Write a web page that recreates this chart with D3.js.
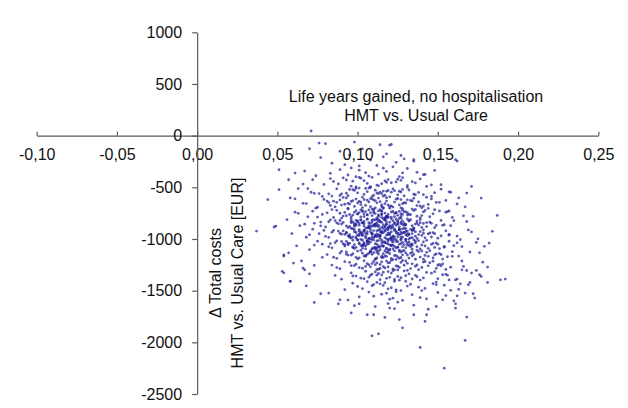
<!DOCTYPE html>
<html>
<head>
<meta charset="utf-8">
<script src="https://cdn.jsdelivr.net/npm/d3@7"></script>
<style>
  body { margin: 0; background: #fff; }
  text { font-family: "Liberation Sans", Arial, Helvetica, sans-serif; }
</style>
</head>
<body>
<div id="container"></div>
<script>
// axis ticks and texts
let xTicks = [-0.10, -0.05, 0, 0.05, 0.10, 0.15, 0.20, 0.25];
let yTicks = [1000, 500, 0, -500, -1000, -1500, -2000, -2500];
let titleLines = ["Life years gained, no hospitalisation", "HMT vs. Usual Care"];
let yLabelLines = ["\u0394 Total costs", "HMT vs. Usual Care [EUR]"];

// bootstrap replicates [delta life years, delta costs EUR]
let topTail = [
  [.071,45],[.098,-62],[.121,-85],[.114,-88],[.120,-92],[.076,-72],[.080,-78],[.070,-127],
  [.103,-128],[.118,-176],[.089,-151],[.127,-192],[.095,-187],
  [.077,-212],[.108,-236],[.124,-258],[.092,-281],[.116,-205],[.135,-247],[.101,-293],[.084,-266],[.129,-224],[.112,-289],[.135,-233],
  [.096,-312],[.118,-347],[.083,-365],[.107,-391],[.131,-318],[.142,-376],[.101,-334],[.074,-388],[.122,-302],[.113,-372],
  [.089,-329],[.137,-355],[.105,-359],[.126,-396],[.094,-381],[.148,-337],[.116,-315],[.067,-343],[.099,-398],[.128,-361],[.141,-378]
];

let upperCloud = [
  [.102,-412],[.117,-438],[.088,-467],[.125,-421],[.096,-489],[.134,-445],[.109,-403],[.079,-472],[.121,-456],[.143,-491],
  [.093,-429],[.112,-478],[.128,-407],[.085,-443],[.106,-462],[.139,-418],[.099,-496],[.118,-451],[.072,-427],[.131,-483],
  [.104,-436],[.115,-465],[.091,-409],[.152,-474],[.124,-448],[.108,-493],[.083,-415],[.119,-425],[.136,-458],[.097,-441],
  [.113,-486],[.127,-432],[.066,-469],[.101,-404],[.146,-477],
  [.108,-503],[.121,-547],[.094,-581],[.132,-526],[.115,-562],[.087,-515],[.103,-594],[.126,-538],[.141,-571],[.099,-509],
  [.112,-555],[.078,-588],[.119,-531],[.135,-566],[.106,-542],[.091,-598],[.128,-519],[.117,-576],[.148,-552],[.101,-507],
  [.084,-585],[.123,-534],[.113,-561],[.097,-523],[.138,-549],[.109,-590],[.069,-512],[.125,-573],[.116,-536],[.093,-557],
  [.131,-501],[.104,-568],[.157,-544],[.111,-528],[.089,-579],[.122,-516],[.100,-553],[.143,-596],[.118,-539],[.082,-564],
  [.107,-506],[.129,-583],[.095,-521],[.114,-548],[.136,-572],[.105,-511],[.073,-559],[.120,-592],[.098,-530],[.127,-545],
  [.110,-577],[.152,-518],[.090,-563],[.116,-586],
  [.113,-604],[.096,-637],[.128,-659],[.104,-618],[.141,-682],[.087,-645],[.119,-671],[.108,-609],[.133,-627],[.075,-693],
  [.100,-652],[.124,-615],[.115,-688],[.092,-664],[.138,-641],[.110,-623],[.083,-676],[.127,-698],[.118,-633],[.102,-667],
  [.146,-612],[.094,-655],[.121,-679],[.107,-641],[.135,-606],[.089,-622],[.116,-694],[.129,-648],[.098,-685],[.111,-628],
  [.162,-661],[.079,-617],[.123,-643],[.105,-674],[.140,-697],[.093,-603],[.117,-658],[.131,-621],[.101,-636],[.086,-689],
  [.126,-670],[.109,-611],[.149,-646],[.097,-629],[.120,-684],[.112,-650],[.068,-657],[.134,-632],[.103,-696],[.125,-608],
  [.090,-672],[.114,-639],[.144,-666],[.106,-624],[.082,-648],[.122,-691],[.099,-614],[.137,-677],[.118,-601],[.095,-662],
  [.130,-652],[.108,-687],[.155,-627],[.085,-634],[.115,-669],[.127,-619],[.102,-643],[.061,-611],[.139,-681],[.111,-699]
];

let coreCloud = [
  [.116,-706],[.098,-742],[.131,-768],[.107,-719],[.145,-785],[.089,-751],[.122,-733],[.112,-797],[.136,-714],[.078,-762],
  [.103,-727],[.127,-756],[.118,-781],[.094,-709],[.141,-738],[.109,-773],[.085,-792],[.124,-745],[.114,-716],[.100,-759],
  [.151,-729],[.096,-787],[.120,-702],[.133,-764],[.105,-735],[.091,-778],[.128,-721],[.117,-749],[.072,-731],[.139,-795],
  [.110,-712],[.125,-771],[.101,-744],[.147,-757],[.087,-723],[.119,-790],[.130,-737],[.106,-766],[.094,-704],[.123,-753],
  [.166,-776],[.113,-728],[.081,-747],[.134,-711],[.104,-783],[.121,-739],[.097,-769],[.142,-724],[.115,-758],[.090,-798],
  [.128,-707],[.108,-746],[.137,-779],[.102,-718],[.119,-761],[.075,-788],[.126,-732],[.111,-754],[.155,-741],[.093,-775],
  [.132,-762],[.099,-726],[.117,-794],[.144,-703],[.106,-767],[.124,-748],[.084,-715],[.113,-782],[.129,-736],[.100,-757],
  [.140,-773],[.109,-710],[.121,-789],[.092,-743],[.135,-725],[.115,-765],[.063,-752],[.127,-799],[.103,-734],[.148,-717],
  [.118,-780],[.095,-763],[.131,-744],[.110,-729],[.159,-791],
  [.117,-803],[.101,-846],[.134,-872],[.109,-818],[.148,-891],[.090,-855],[.125,-833],[.113,-867],[.139,-812],[.080,-884],
  [.104,-829],[.128,-860],[.119,-896],[.096,-808],[.143,-841],[.111,-877],[.086,-822],[.123,-851],[.115,-886],[.102,-815],
  [.154,-862],[.097,-836],[.130,-899],[.107,-843],[.121,-805],[.093,-874],[.137,-827],[.118,-857],[.073,-848],[.126,-882],
  [.112,-811],[.099,-866],[.145,-838],[.106,-893],[.132,-819],[.088,-853],[.120,-870],[.114,-826],[.140,-888],[.103,-845],
  [.168,-831],[.124,-809],[.095,-879],[.129,-847],[.110,-864],[.083,-816],[.136,-856],[.116,-898],[.100,-834],[.149,-869],
  [.122,-823],[.108,-881],[.091,-840],[.133,-814],[.118,-858],[.077,-873],[.127,-837],[.105,-895],[.141,-850],[.113,-828],
  [.098,-862],[.131,-806],[.120,-884],[.087,-844],[.152,-820],[.109,-876],[.125,-852],[.102,-817],[.138,-865],[.115,-839],
  [.094,-890],[.128,-825],[.111,-860],[.146,-848],[.106,-807],[.121,-877],[.082,-833],[.135,-894],[.117,-813],[.099,-854],
  [.158,-871],[.123,-842],[.107,-884],[.089,-821],[.130,-859],[.114,-835],[.143,-880],[.101,-866],[.126,-802],[.067,-857],
  [.119,-889],[.096,-829],[.139,-843],[.112,-871],[.104,-850],
  [.118,-904],[.103,-947],[.136,-973],[.110,-919],[.150,-992],[.092,-956],[.127,-934],[.114,-968],[.141,-913],[.082,-985],
  [.106,-930],[.130,-961],[.121,-997],[.098,-909],[.145,-942],[.112,-978],[.088,-923],[.125,-952],[.117,-987],[.104,-916],
  [.157,-963],[.099,-937],[.132,-999],[.109,-944],[.123,-906],[.095,-975],[.139,-928],[.119,-958],[.076,-949],[.128,-983],
  [.113,-912],[.101,-967],[.147,-939],[.107,-994],[.134,-920],[.090,-954],[.122,-971],[.115,-927],[.142,-989],[.105,-946],
  [.171,-932],[.126,-910],[.097,-980],[.131,-948],[.111,-965],[.085,-917],[.138,-957],[.118,-998],[.102,-935],[.152,-970],
  [.124,-924],[.109,-982],[.093,-941],[.135,-915],[.120,-959],[.080,-974],[.129,-938],[.107,-996],[.144,-951],[.114,-929],
  [.100,-963],[.133,-907],[.122,-985],[.089,-945],[.155,-921],[.111,-977],[.127,-953],[.104,-918],[.140,-966],[.116,-940],
  [.096,-991],[.130,-926],[.113,-961],[.148,-949],[.108,-908],[.123,-978],[.084,-934],[.137,-995],[.119,-914],[.101,-955],
  [.162,-972],[.125,-943],[.110,-986],[.091,-922],[.132,-960],[.115,-936],[.146,-981],[.103,-967],[.128,-903],[.070,-958],
  [.121,-990],[.098,-930],[.141,-944],[.114,-972],[.106,-951],[.134,-987],[.117,-925],[.094,-969],[.126,-911],[.112,-950],
  [.119,-1005],[.104,-1048],[.137,-1074],[.112,-1019],[.151,-1093],[.094,-1056],[.128,-1034],[.116,-1068],[.143,-1013],[.084,-1086],
  [.108,-1030],[.132,-1062],[.122,-1097],[.100,-1009],[.147,-1043],[.114,-1078],[.090,-1024],[.126,-1052],[.118,-1088],[.106,-1016],
  [.160,-1064],[.101,-1037],[.134,-1099],[.111,-1045],[.124,-1006],[.097,-1076],[.141,-1028],[.121,-1059],[.078,-1050],[.130,-1084],
  [.115,-1012],[.103,-1067],[.149,-1039],[.109,-1095],[.136,-1021],[.092,-1055],[.123,-1072],[.117,-1027],[.144,-1090],[.107,-1047],
  [.174,-1033],[.127,-1011],[.099,-1081],[.133,-1049],[.113,-1066],[.087,-1018],[.140,-1058],[.120,-1098],[.104,-1036],[.154,-1071],
  [.125,-1025],[.111,-1083],[.095,-1042],[.138,-1015],[.122,-1060],[.082,-1075],[.131,-1038],[.109,-1096],[.146,-1052],[.116,-1029],
  [.102,-1064],[.135,-1008],[.124,-1086],[.091,-1046],[.157,-1022],[.113,-1079],[.129,-1054],[.106,-1019],[.142,-1067],[.118,-1041],
  [.098,-1092],[.132,-1027],[.115,-1062],[.150,-1050],[.110,-1009],[.125,-1078],[.086,-1035],[.139,-1096],[.121,-1015],[.103,-1057],
  [.165,-1073],[.127,-1044],[.112,-1087],[.093,-1023],[.134,-1061],[.117,-1037],[.148,-1082],[.105,-1068],[.130,-1004],[.073,-1059],
  [.120,-1106],[.106,-1149],[.139,-1175],[.113,-1120],[.153,-1194],[.096,-1157],[.130,-1135],[.118,-1169],[.145,-1114],[.087,-1187],
  [.110,-1131],[.134,-1163],[.124,-1198],[.102,-1110],[.149,-1144],[.116,-1179],[.093,-1125],[.128,-1153],[.121,-1189],[.108,-1117],
  [.163,-1165],[.103,-1138],[.136,-1196],[.113,-1146],[.126,-1107],[.099,-1177],[.143,-1129],[.123,-1160],[.081,-1151],[.132,-1185],
  [.117,-1113],[.105,-1168],[.151,-1140],[.111,-1192],[.138,-1122],[.094,-1156],[.125,-1173],[.119,-1128],[.147,-1183],[.109,-1148],
  [.176,-1134],[.129,-1112],[.101,-1182],[.135,-1150],[.115,-1167],[.090,-1119],[.142,-1159],[.122,-1199],[.107,-1137],[.156,-1172],
  [.127,-1126],[.112,-1184],[.097,-1143],[.140,-1116],[.124,-1161],[.085,-1176],[.133,-1139],[.111,-1197],[.148,-1153],[.118,-1130],
  [.104,-1165],[.137,-1109],[.126,-1187],[.093,-1147],[.159,-1123],[.115,-1180],[.131,-1155],[.108,-1121],[.144,-1168],[.120,-1142],
  [.100,-1193],[.134,-1128],[.117,-1163],[.152,-1151],[.112,-1110],[.127,-1179],[.089,-1136],[.141,-1195],[.123,-1116],[.105,-1158]
];

// the darkest part of the cloud
let denseCore = [
  [.112,-921],[.104,-874],[.121,-988],[.097,-1012],[.118,-833],[.109,-956],[.126,-902],[.101,-1047],[.115,-791],[.131,-968],
  [.107,-889],[.122,-1031],[.093,-937],[.116,-862],[.128,-1074],[.111,-815],[.099,-979],[.134,-911],[.105,-1096],[.119,-944],
  [.125,-857],[.102,-1003],[.113,-768],[.130,-1021],[.096,-896],[.120,-1058],[.108,-931],[.137,-847],[.114,-993],[.100,-826],
  [.123,-917],[.110,-1083],[.127,-781],[.094,-1041],[.117,-883],[.132,-951],[.106,-808],[.119,-1107],[.103,-962],[.129,-869],
  [.113,-1015],[.098,-851],[.124,-940],[.108,-1128],[.135,-896],[.115,-732],[.101,-925],[.121,-1066],[.110,-873],[.127,-1002],
  [.095,-984],[.118,-799],[.106,-1052],[.131,-923],[.112,-845],[.103,-1089],[.126,-958],[.116,-1142],[.099,-819],[.122,-887],
  [.109,-1006],[.136,-1038],[.114,-906],[.104,-758],[.128,-1115],[.111,-968],[.097,-903],[.120,-838],[.133,-989],[.107,-1025],
  [.117,-877],[.102,-946],[.125,-1081],[.113,-812],[.092,-1068],[.130,-864],[.108,-999],[.121,-931],[.100,-1117],[.119,-785],
  [.134,-1047],[.111,-855],[.105,-973],[.126,-909],[.115,-1036],[.096,-842],[.123,-1001],[.110,-746],[.129,-936],[.103,-1012],
  [.118,-1094],[.107,-893],[.132,-827],[.114,-962],[.098,-1055],[.124,-868],[.112,-1130],[.101,-909],[.127,-984],[.116,-803],
  [.106,-1020],[.120,-944],[.133,-1075],[.109,-836],[.095,-958],[.122,-1012],[.113,-881],[.128,-762],[.104,-1061],[.117,-917],
  [.111,-1099],[.125,-826],[.099,-992],[.119,-1048],[.108,-851],[.130,-1003],[.115,-940],[.102,-787],[.126,-1120],[.113,-970],
  [.121,-898],[.106,-1034],[.134,-948],[.110,-814],[.097,-1083],[.118,-962],[.127,-851],[.104,-925],[.116,-1071],[.123,-785],
  [.100,-1010],[.129,-897],[.112,-1052],[.107,-872],[.120,-996],[.136,-931],[.114,-1104],[.103,-843],[.124,-1024],[.109,-950],
  [.117,-818],[.131,-1057],[.105,-990],[.122,-863],[.111,-1083],[.128,-941],[.098,-878],[.119,-1017],[.115,-729],[.125,-979]
];

let lowerCloud = [
  [.121,-1207],[.107,-1250],[.140,-1276],[.115,-1221],[.155,-1295],[.098,-1258],[.131,-1236],[.119,-1270],[.147,-1215],[.089,-1288],
  [.112,-1232],[.136,-1264],[.125,-1299],[.104,-1211],[.151,-1245],[.117,-1280],[.095,-1226],[.129,-1254],[.122,-1290],[.110,-1218],
  [.166,-1266],[.106,-1239],[.138,-1297],[.114,-1247],[.128,-1208],[.101,-1278],[.145,-1230],[.124,-1261],[.084,-1252],[.133,-1286],
  [.118,-1214],[.108,-1269],[.153,-1241],[.113,-1293],[.141,-1223],[.096,-1257],[.126,-1274],[.120,-1229],[.149,-1284],[.111,-1249],
  [.130,-1213],[.103,-1283],[.137,-1251],[.116,-1268],[.092,-1220],[.144,-1260],[.123,-1298],[.109,-1238],[.158,-1273],[.127,-1227],
  [.114,-1285],[.099,-1244],[.142,-1217],[.125,-1262],[.087,-1277],[.134,-1240],[.112,-1296],[.150,-1254],[.119,-1231],[.105,-1266],
  [.122,-1308],[.108,-1351],[.141,-1377],[.116,-1322],[.157,-1396],[.099,-1359],[.132,-1337],[.120,-1371],[.148,-1316],[.090,-1389],
  [.113,-1333],[.137,-1365],[.126,-1399],[.105,-1312],[.153,-1346],[.118,-1381],[.096,-1327],[.130,-1355],[.123,-1391],[.111,-1319],
  [.109,-1340],[.139,-1398],[.115,-1348],[.129,-1309],[.102,-1379],[.146,-1331],[.125,-1362],[.086,-1353],[.134,-1387],[.119,-1315],
  [.107,-1370],[.155,-1342],[.114,-1394],[.143,-1324],[.097,-1358],[.127,-1375],[.121,-1330],[.150,-1385],[.112,-1350],[.131,-1303],
  [.104,-1384],[.136,-1352],
  [.123,-1409],[.109,-1452],[.142,-1478],[.117,-1423],[.158,-1497],[.100,-1460],[.133,-1438],[.121,-1472],[.149,-1417],[.092,-1490],
  [.114,-1434],[.138,-1466],[.127,-1499],[.106,-1413],[.154,-1447],[.119,-1482],[.097,-1428],[.131,-1456],[.124,-1492],[.112,-1420],
  [.110,-1441],[.140,-1499],[.116,-1449],[.130,-1410],[.103,-1480],[.147,-1432],
  [.124,-1510],[.110,-1553],[.143,-1579],[.118,-1524],[.160,-1598],[.101,-1561],[.134,-1539],[.122,-1573],[.150,-1518],[.094,-1591],
  [.115,-1535],[.139,-1567],[.128,-1594],[.107,-1514],[.155,-1548],[.120,-1583],
  [.125,-1611],[.111,-1654],[.144,-1680],[.119,-1625],[.101,-1627],[.135,-1640],[.123,-1674],[.098,-1646],[.149,-1653]
];

let flanks = [
  [.063,-512],[.071,-548],[.058,-603],[.066,-655],[.074,-702],[.061,-741],[.069,-786],[.056,-812],[.077,-836],[.064,-871],
  [.072,-905],[.059,-948],[.068,-983],[.075,-1021],[.062,-1066],[.070,-1102],[.057,-1134],[.078,-1177],[.065,-1212],[.073,-1256],
  [.081,-633],[.079,-917],[.083,-1044],[.076,-561],[.067,-1298],
  [.158,-548],[.163,-603],[.151,-645],[.167,-689],[.156,-736],[.172,-781],[.160,-823],[.153,-868],[.169,-912],[.157,-955],
  [.175,-998],[.162,-1037],[.154,-1081],[.170,-1126],[.159,-1168],[.165,-1213],[.152,-1259],[.168,-1305],[.156,-1350],[.161,-1396],
  [.149,-1441],[.163,-1487],[.157,-729],[.146,-587],[.164,-1006]
];

let stragglers = [
  [.171,-491],[.177,-604],[.187,-772],[.168,-556],[.161,-233],[.162,-246],[.184,-926],[.179,-1071],[.182,-1040],
  [.192,-1388],[.189,-1395],[.181,-1420],[.181,-1272],[.178,-1224],[.177,-1362],[.176,-1346],[.173,-1572],[.172,-1530],
  [.168,-1756],[.167,-1982],[.167,-1523],[.162,-1550],[.161,-1627],[.161,-1669],[.170,-1420],[.169,-1443],[.164,-1434],
  [.162,-1388],[.165,-1298],[.171,-1330],[.174,-1304],
  [.109,-1937],[.113,-1918],[.128,-1860],[.139,-2050],[.154,-2250],[.096,-1715],[.126,-1780],[.142,-1798],[.143,-1733],
  [.117,-1759],[.106,-1733],[.110,-1733],[.135,-1733],[.120,-1669],[.153,-1589],
  [.073,-1614],[.088,-1627],[.077,-1530],[.053,-1314],[.058,-1411],[.068,-1453],[.082,-1523],[.089,-1589],[.070,-1337],
  [.066,-1282],[.060,-1233],[.054,-1153],
  [.051,-330],[.061,-362],[.057,-427],[.051,-523],[.044,-619],[.037,-923],[.048,-884],[.049,-875],[.054,-1165],
  [.054,-1327],[.058,-1407]
];

let allPoints = topTail.concat(upperCloud, coreCloud, denseCore, lowerCloud, flanks, stragglers);
console.log("points:", allPoints.length);

let w = 628;
let h = 408;

let viz = d3.select("#container")
  .append("svg")
    .attr("width", w)
    .attr("height", h)
    .style("display", "block")
    .style("background", "#fff")
;

let xScale = d3.scaleLinear().domain([-0.10, 0.25]).range([36.7, 598.3]);
let yScale = d3.scaleLinear().domain([-2500, 1000]).range([394, 32.3]);

// the cloud first, axes drawn over it
viz.append("g").classed("cloud", true)
  .selectAll("circle")
  .data(allPoints)
  .enter()
  .append("circle")
    .attr("cx", d => xScale(d[0]))
    .attr("cy", d => yScale(d[1]))
    .attr("r", 1.4)
    .attr("fill", "#20209a")
    .attr("opacity", 0.72)
;

// x axis sits on cost = 0, ticks point up, labels below
let xAxis = d3.axisBottom(xScale)
  .tickValues(xTicks)
  .tickFormat(d => d.toFixed(2).replace(".", ","))
  .tickSize(-4)
  .tickSizeOuter(0)
  .tickPadding(13);

let xAxisGroup = viz.append("g")
  .attr("transform", "translate(0," + yScale(0) + ")")
  .call(xAxis);

// y axis sits on effect = 0
let yAxis = d3.axisLeft(yScale)
  .tickValues(yTicks)
  .tickFormat(d => String(d))
  .tickSize(5)
  .tickSizeOuter(0)
  .tickPadding(10);

let yAxisGroup = viz.append("g")
  .attr("transform", "translate(" + xScale(0) + ",0)")
  .call(yAxis);

[xAxisGroup, yAxisGroup].forEach(g => {
  g.attr("font-size", 16).attr("font-family", null);
  g.selectAll("path, line").attr("stroke", "#5a5a5a").attr("stroke-width", 1.2);
  g.selectAll("text").attr("fill", "#111");
});

// title
viz.append("text")
  .attr("x", 416)
  .attr("y", 102)
  .attr("text-anchor", "middle")
  .attr("font-size", 16)
  .attr("fill", "#111")
  .selectAll("tspan")
  .data(titleLines)
  .enter()
  .append("tspan")
    .attr("x", 416)
    .attr("dy", (d, i) => i == 0 ? 0 : 19)
    .text(d => d)
;

// rotated y label, two lines
viz.selectAll(".ylabel")
  .data(yLabelLines)
  .enter()
  .append("text")
    .classed("ylabel", true)
    .attr("transform", (d, i) => "translate(" + (220.5 + i * 22) + ",273) rotate(-90)")
    .attr("text-anchor", "middle")
    .attr("font-size", 16)
    .attr("fill", "#111")
    .text(d => d)
;
</script>
</body>
</html>
